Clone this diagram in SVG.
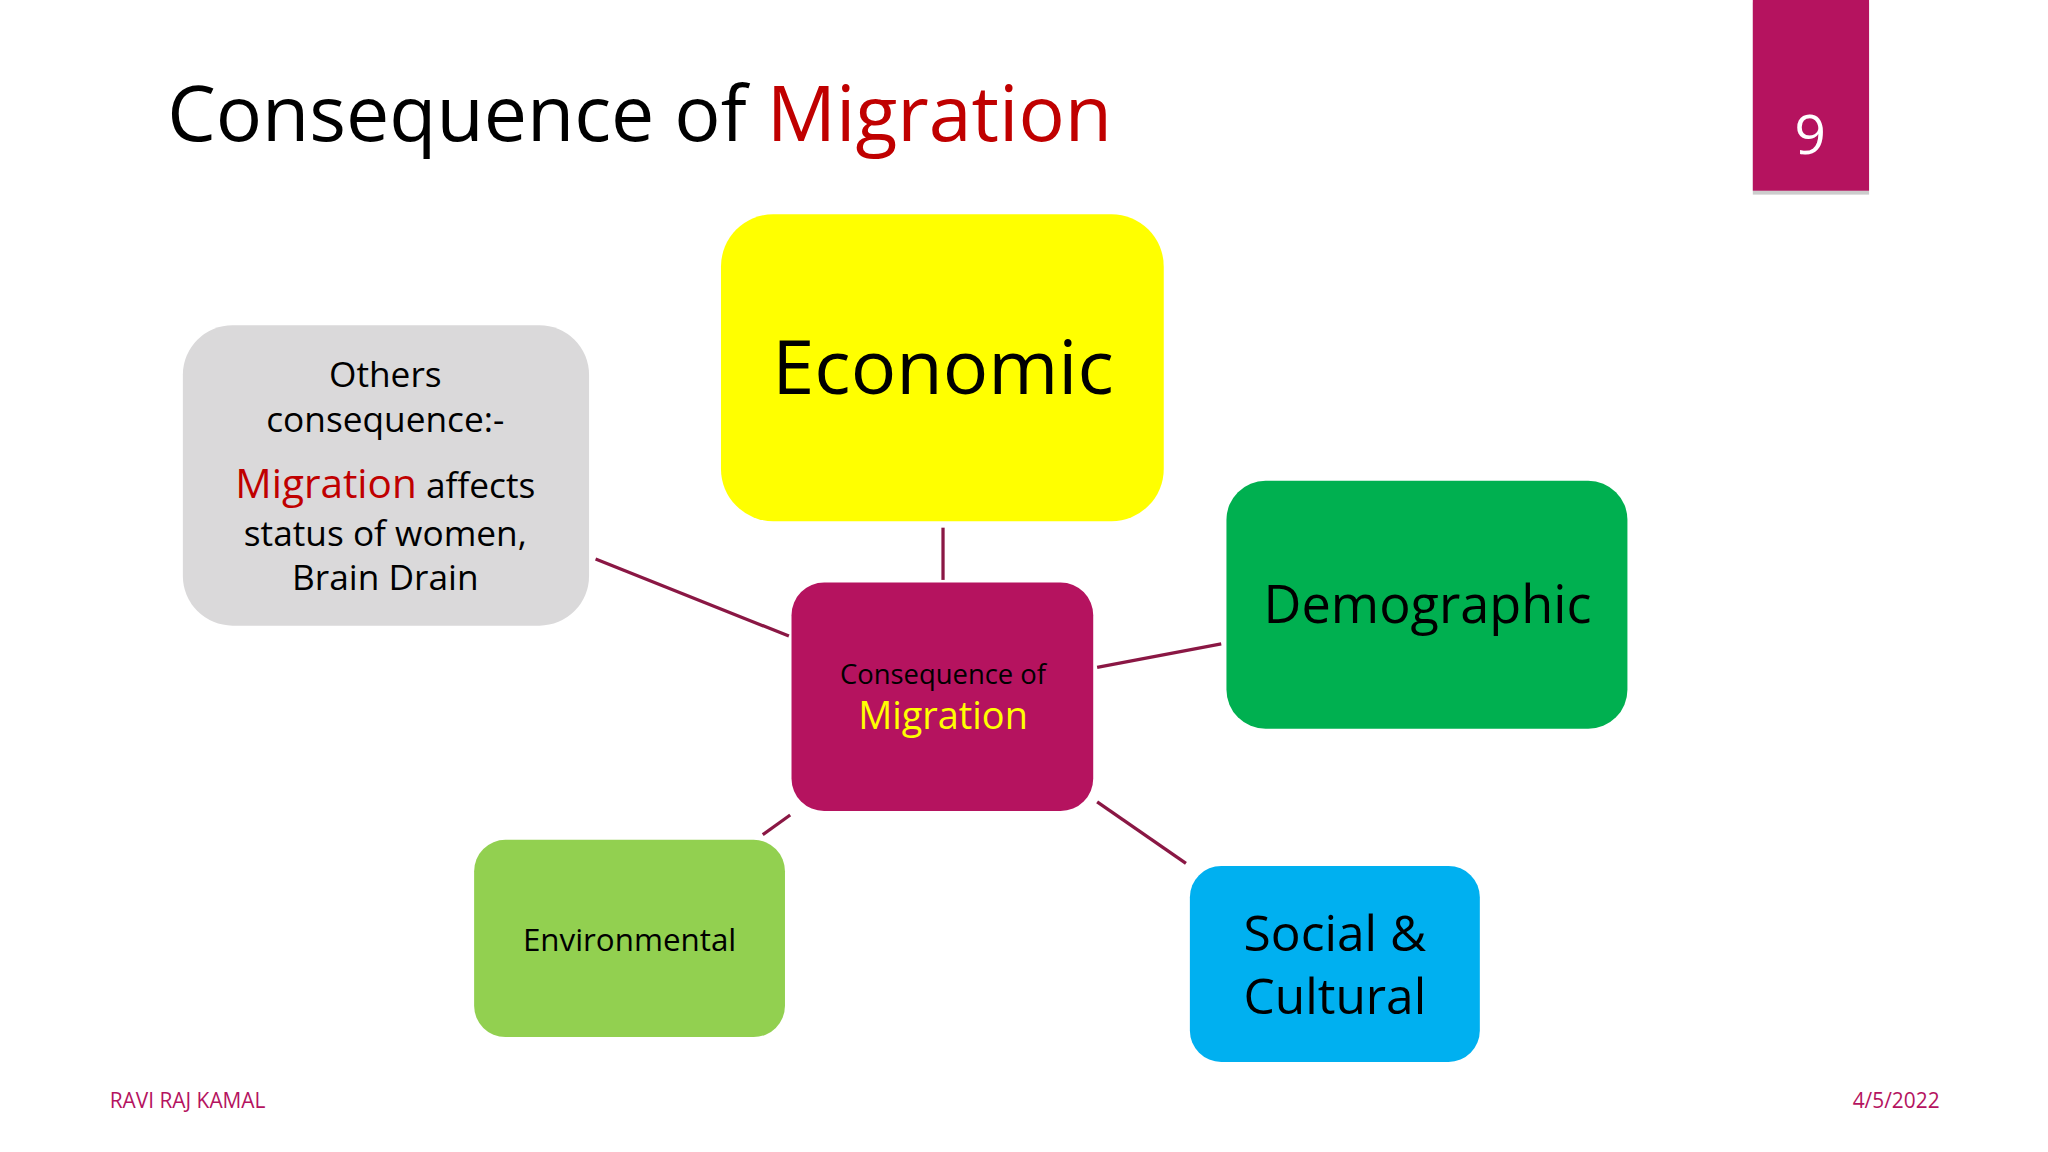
<svg xmlns="http://www.w3.org/2000/svg" width="2048" height="1152" viewBox="0 0 2048 1152">
<style>
text{font-family:"Open Sans","Noto Sans",sans-serif}
.c{text-anchor:middle}
.ln{stroke:#8A1744;stroke-width:2.5;fill:none}
</style>
<rect width="2048" height="1152" fill="#fff"/>
<g transform="scale(1.30612)">
<g id="title"><text x="128" y="108" font-size="59" fill="#000">Consequence of <tspan fill="#C00000">Migration</tspan></text></g>
<g id="pagenum"><rect x="1342" y="2" width="89" height="147" fill="#999" opacity="0.5"/><rect x="1342" y="0" width="89" height="146" fill="#B5135F"/><text class="c" x="1386" y="118" font-size="42" fill="#fff">9</text></g>
<g id="connectors">
<line class="ln" x1="722" y1="404" x2="722" y2="444"/>
<line class="ln" x1="456" y1="428" x2="604" y2="487"/>
<line class="ln" x1="840" y1="511" x2="935" y2="493"/>
<line class="ln" x1="840" y1="614" x2="908" y2="661"/>
<line class="ln" x1="605" y1="624" x2="584" y2="639"/>
</g>
<g id="economic"><rect x="552" y="164" width="339" height="235" rx="40" fill="#FFFF00"/><text class="c" x="722" y="302" font-size="58">Economic</text></g>
<g id="others"><rect x="140" y="249" width="311" height="230" rx="38" fill="#DAD9DA"/>
<text class="c" font-size="27" fill="#000"><tspan x="295" y="296">Others</tspan><tspan x="295" y="331">consequence:-</tspan><tspan x="295" y="381"><tspan fill="#C00000" font-size="31">Migration</tspan> affects</tspan><tspan x="295" y="418">status of women,</tspan><tspan x="295" y="452">Brain Drain</tspan></text></g>
<g id="demographic"><rect x="939" y="368" width="307" height="190" rx="30" fill="#00B050"/><text class="c" x="1093" y="477" font-size="40">Demographic</text></g>
<g id="center"><rect x="606" y="446" width="231" height="175" rx="25" fill="#B5135F"/><text class="c" x="722" y="524" font-size="21">Consequence of</text><text class="c" x="722" y="558" font-size="29" fill="#FFFF00">Migration</text></g>
<g id="environmental"><rect x="363" y="643" width="238" height="151" rx="24" fill="#92D050"/><text class="c" x="482" y="728" font-size="24">Environmental</text></g>
<g id="social"><rect x="911" y="663" width="222" height="150" rx="24" fill="#00B0F0"/><text class="c" font-size="38"><tspan x="1022" y="728">Social &amp;</tspan><tspan x="1022" y="776">Cultural</tspan></text></g>
<g id="footer"><text x="84" y="848" font-size="16" fill="#B5135F">RAVI RAJ KAMAL</text><text x="1485" y="848" font-size="16" fill="#B5135F" text-anchor="end">4/5/2022</text></g>
</g>
</svg>
